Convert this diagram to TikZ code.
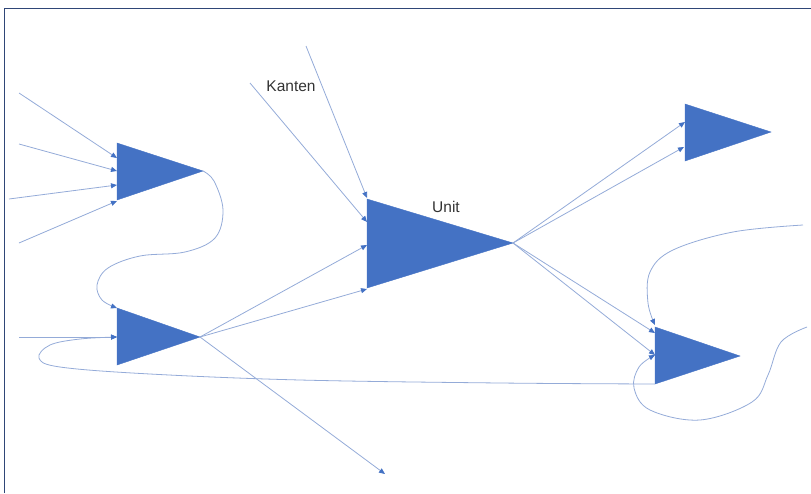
\documentclass[tikz,border=0pt]{standalone}
\usepackage{fontspec}
\setmainfont{Liberation Sans}
\usetikzlibrary{arrows.meta}
\definecolor{unitblue}{HTML}{4472C4}
\definecolor{edgeblue}{HTML}{94ABD8}
\definecolor{framecol}{HTML}{2F4677}
\definecolor{txtcol}{HTML}{333333}
\begin{document}
\begin{tikzpicture}[x=1pt,y=-1pt,
  unitshape/.style={fill=unitblue,draw=unitblue,line width=0.4pt,line join=miter},
  conn/.style={draw=edgeblue,line width=0.8pt,-{Triangle[length=6pt,width=5pt,color=unitblue]}},
  plain/.style={draw=edgeblue,line width=0.8pt},
  lbl/.style={font=\fontsize{15.5}{18}\selectfont,text=txtcol,inner sep=0pt}]
\useasboundingbox (0,0) rectangle (811,493);
% frame
\draw[framecol,line width=1.6pt] (4.5,493) -- (4.5,8.5) -- (811,8.5);
% triangle corners
\coordinate (t1a) at (117,143); \coordinate (t1b) at (117,200); \coordinate (t1c) at (203,171);
\coordinate (t2a) at (117,308); \coordinate (t2b) at (117,365); \coordinate (t2c) at (200,337);
\coordinate (t3a) at (367,199); \coordinate (t3b) at (367,288); \coordinate (t3c) at (513,243);
\coordinate (t4a) at (685,104); \coordinate (t4b) at (685,161); \coordinate (t4c) at (771,132);
\coordinate (t5a) at (655,327); \coordinate (t5b) at (655,384); \coordinate (t5c) at (740,356);
\foreach \t in {t1,t2,t3,t4,t5}{\path[unitshape] (\t a) -- (\t c) -- (\t b) -- cycle;}
% input ports
\coordinate (p1a) at (117,158); \coordinate (p1b) at (117,171); \coordinate (p1c) at (117,185); \coordinate (p1d) at (117,201);
\coordinate (p2a) at (117,308); \coordinate (p2b) at (117,337);
\coordinate (p3a) at (367,198); \coordinate (p3b) at (367,222); \coordinate (p3c) at (367,245); \coordinate (p3d) at (367,289);
\coordinate (p4a) at (685,122); \coordinate (p4b) at (684,147);
\coordinate (p5a) at (655,325); \coordinate (p5b) at (655,333); \coordinate (p5c) at (655,355);
% free ends
\coordinate (f1) at (19,93); \coordinate (f2) at (19,144); \coordinate (f3) at (9,199); \coordinate (f4) at (19,243);
\coordinate (f5) at (19,337); \coordinate (f6) at (306,46); \coordinate (f7) at (250,83);
\coordinate (f8) at (385,474); \coordinate (f9) at (803,225); \coordinate (f10) at (807,327);
% straight edges
\draw[conn] (f1) -- (p1a);
\draw[conn] (f2) -- (p1b);
\draw[conn] (f3) -- (p1c);
\draw[conn] (f4) -- (p1d);
\draw[conn] (f5) -- (p2b);
\draw[conn] (t2c) -- (p3c);
\draw[conn] (t2c) -- (p3d);
\draw[conn] (t2c) -- (f8);
\draw[conn] (f6) -- (p3a);
\draw[conn] (f7) -- (p3b);
\draw[conn] (t3c) -- (p4a);
\draw[conn] (t3c) -- (p4b);
\draw[conn] (t3c) -- (p5b);
\draw[conn] (t3c) -- (p5c);
% curved edges
\draw[conn] plot[smooth,tension=0.6] coordinates {(t1c) (214,181) (223,210) (215,238) (185,252) (140,256) (108,268) (97,285) (102,300) (p2a)};
\draw[conn] plot[smooth,tension=0.6] coordinates {(t5b) (500,383) (300,380) (150,374) (60,367) (39,358) (50,345) (80,339) (p2b)};
\draw[conn] plot[smooth,tension=0.6] coordinates {(f9) (733,232) (673,250) (650,272) (648,303) (p5a)};
\draw[conn] plot[smooth,tension=0.6] coordinates {(f10) (781,342) (768,375) (752,402) (700,420) (650,410) (634,388) (639,367) (p5c)};
% labels
\node[lbl] (kanten) at (291,86) {Kanten};
\node[lbl] (unit) at (446,207) {Unit};
\end{tikzpicture}
\end{document}
